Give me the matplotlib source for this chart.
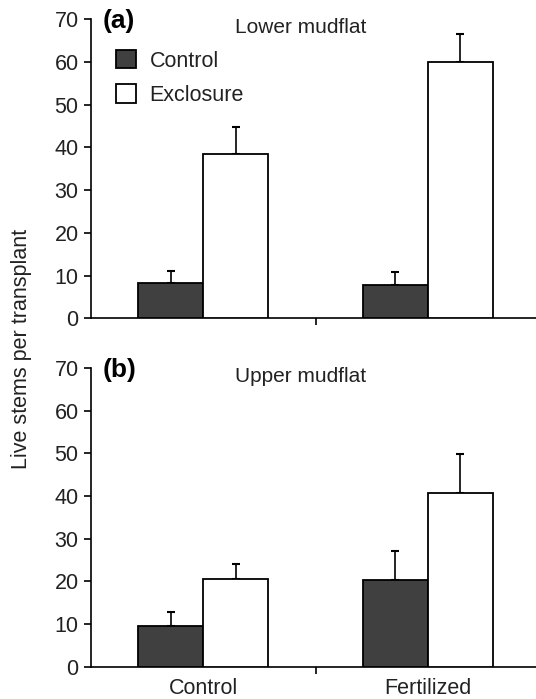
import numpy as np
import matplotlib.pyplot as plt
from matplotlib.ticker import FixedLocator

plt.rcParams["font.family"] = ["Liberation Sans", "DejaVu Sans"]
plt.rcParams["font.size"] = 15.5

groups = ["Control", "Fertilized"]
series = ["Control", "Exclosure"]

# panel (a) lower mudflat
lower_control = [8.3, 7.8]
lower_control_se = [2.8, 3.1]
lower_excl = [38.4, 60.0]
lower_excl_se = [6.3, 6.4]

# panel (b) upper mudflat
upper_control = [9.6, 20.4]
upper_control_se = [3.3, 6.6]
upper_excl = [20.5, 40.6]
upper_excl_se = [3.5, 9.2]

panels = [
    ("(a)", "Lower mudflat", lower_control, lower_control_se, lower_excl, lower_excl_se),
    ("(b)", "Upper mudflat", upper_control, upper_control_se, upper_excl, upper_excl_se),
]

W, H = 536, 699
fig = plt.figure(figsize=(W / 100, H / 100), dpi=100)

boxes = [
    [91 / W, (H - 318.3) / H, 449 / W, 299.3 / H],
    [91 / W, (H - 666.7) / H, 449 / W, 298.7 / H],
]

dark = "#404040"
txt = "#222222"
bw = 0.29
centers = np.arange(len(groups)) + 0.5

for i, (tag, title, ctl, ctl_se, exc, exc_se) in enumerate(panels):
    ax = fig.add_axes(boxes[i])
    ax.bar(centers - bw / 2, ctl, bw, color=dark, edgecolor="black", linewidth=1.3,
           label=series[0], zorder=3)
    ax.bar(centers + bw / 2, exc, bw, color="white", edgecolor="black", linewidth=1.3,
           label=series[1], zorder=3)
    ax.errorbar(centers - bw / 2, ctl, yerr=[np.zeros(2), ctl_se], fmt="none",
                ecolor="black", elinewidth=1.2, capsize=3, capthick=1.5, zorder=2)
    ax.errorbar(centers + bw / 2, exc, yerr=[np.zeros(2), exc_se], fmt="none",
                ecolor="black", elinewidth=1.2, capsize=3, capthick=1.5, zorder=2)

    ax.set_xlim(0, 2)
    ax.set_ylim(0, 70)
    ax.set_yticks(np.arange(0, 71, 10))
    ax.spines["top"].set_visible(False)
    ax.spines["right"].set_visible(False)
    for s in ["left", "bottom"]:
        ax.spines[s].set_linewidth(1.2)
    ax.tick_params(axis="y", direction="out", length=5, width=1.2, pad=4,
                   labelcolor=txt)
    ax.set_xticks(centers)
    ax.xaxis.set_minor_locator(FixedLocator([1]))
    ax.tick_params(axis="x", which="major", length=0, pad=8)
    ax.tick_params(axis="x", which="minor", length=5, width=1.2, direction="out")
    if i == 0:
        ax.set_xticklabels([])
    else:
        ax.set_xticklabels(groups, color=txt)

    ax.text(0.05, 69.5, tag, fontsize=19, fontweight="bold", va="center", ha="left")
    ax.text(0.64, 68.0, title, fontsize=15, va="center", ha="left", color=txt)

    if i == 0:
        ax.legend(loc="upper left", bbox_to_anchor=(0.036, 0.925), frameon=False,
                  handlelength=0.92, handleheight=0.92, handletextpad=0.65,
                  labelspacing=0.6, fontsize=15.5, borderaxespad=0,
                  labelcolor=txt)

fig.text(22 / W, 1 - 349 / H, "Live stems per transplant", rotation=90,
         ha="center", va="center", fontsize=15.5, color=txt)

fig.savefig("out.png", dpi=100)
